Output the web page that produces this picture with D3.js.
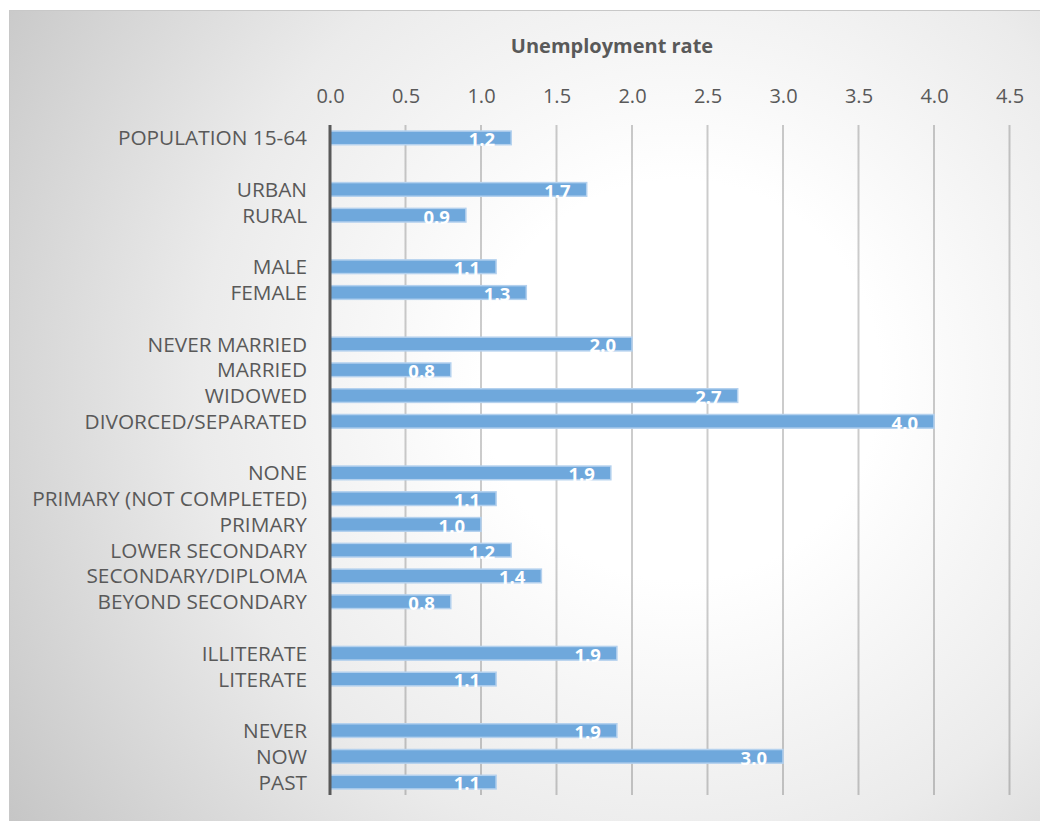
<!DOCTYPE html>
<html>
<head>
<meta charset="utf-8">
<script src="https://cdn.jsdelivr.net/npm/d3@7"></script>
<style>
  html, body { margin: 0; padding: 0; background: #ffffff; }
  svg { display: block; }
</style>
</head>
<body>
<svg id="chart" width="1040" height="821"></svg>
<script>
// Unemployment rate by population group (groups separated by a blank row)
const groups = [
  ["POPULATION 15-64"],
  ["URBAN", "RURAL"],
  ["MALE", "FEMALE"],
  ["NEVER MARRIED", "MARRIED", "WIDOWED", "DIVORCED/SEPARATED"],
  ["NONE", "PRIMARY (NOT COMPLETED)", "PRIMARY", "LOWER SECONDARY", "SECONDARY/DIPLOMA", "BEYOND SECONDARY"],
  ["ILLITERATE", "LITERATE"],
  ["NEVER", "NOW", "PAST"]
];
const groupValues = [
  [1.2],
  [1.7, 0.9],
  [1.1, 1.3],
  [2.0, 0.8, 2.7, 4.0],
  [1.86, 1.1, 1.0, 1.2, 1.4, 0.8],
  [1.9, 1.1],
  [1.9, 3.0, 1.1]
];
const xTicks = [0.0, 0.5, 1.0, 1.5, 2.0, 2.5, 3.0, 3.5, 4.0, 4.5];
const axisTitle = "Unemployment rate";

// Flatten into rows; blank spacer slots keep the gaps between groups
const rows = [];
groups.forEach((g, gi) => {
  if (gi > 0) rows.push({ key: "gap" + gi, label: "", value: null });
  g.forEach((label, i) => rows.push({ key: "g" + gi + "-" + i, label, value: groupValues[gi][i] }));
});
const bars = rows.filter(r => r.value !== null);

const W = 1040, H = 821;
const svg = d3.select("#chart");
const font = "'Open Sans', 'Noto Sans', sans-serif";
const textColor = "#595959";

// Background with a soft radial highlight
const defs = svg.append("defs");
const grad = defs.append("radialGradient")
  .attr("id", "bg")
  .attr("gradientUnits", "userSpaceOnUse")
  .attr("cx", 680).attr("cy", 380).attr("r", 800)
  .attr("fx", 680).attr("fy", 380);
grad.append("stop").attr("offset", 0).attr("stop-color", "#ffffff");
grad.append("stop").attr("offset", 0.25).attr("stop-color", "#ffffff");
grad.append("stop").attr("offset", 0.6).attr("stop-color", "#ebebeb");
grad.append("stop").attr("offset", 1).attr("stop-color", "#c6c6c6");

svg.append("rect").attr("width", W).attr("height", H).attr("fill", "#ffffff");
svg.append("rect")
  .attr("x", 9.5).attr("y", 10.5).attr("width", W).attr("height", H)
  .attr("fill", "url(#bg)")
  .attr("stroke", "#c8c8c8").attr("stroke-width", 1);

// Scales
const x = d3.scaleLinear().domain([0, 4.5]).range([330, 1009.5]);
const y = d3.scaleBand().domain(rows.map(r => r.key)).range([125, 795]).paddingInner(0.47).paddingOuter(0.235);

const plotTop = 125, plotBottom = 795;

// Vertical gridlines
svg.append("g")
  .selectAll("line")
  .data(xTicks.filter(t => t > 0))
  .join("line")
  .attr("x1", d => x(d)).attr("x2", d => x(d))
  .attr("y1", plotTop).attr("y2", plotBottom)
  .attr("stroke", "#000").attr("stroke-opacity", 0.2).attr("stroke-width", 2);

// Top value axis (labels only)
const xAxis = d3.axisTop(x).tickValues(xTicks).tickFormat(d3.format(".1f")).tickSize(0).tickPadding(0);
const gx = svg.append("g").attr("transform", "translate(0,103)").call(xAxis);
gx.select(".domain").remove();
gx.selectAll("text")
  .attr("font-family", font).attr("font-size", 20).attr("fill", textColor);

// Axis title
svg.append("text")
  .attr("x", 612).attr("y", 53)
  .attr("text-anchor", "middle")
  .attr("font-family", font).attr("font-size", 20).attr("font-weight", "bold")
  .attr("fill", textColor)
  .text(axisTitle);

// Bars
svg.append("g")
  .selectAll("rect")
  .data(bars)
  .join("rect")
  .attr("x", x(0)).attr("y", d => y(d.key))
  .attr("width", d => x(d.value) - x(0))
  .attr("height", y.bandwidth())
  .attr("fill", "#6fa8dc")
  .attr("stroke", "#b4d1ee").attr("stroke-width", 1.5);

// Category axis
const yAxis = d3.axisLeft(y).tickFormat(k => rows.find(r => r.key === k).label).tickSize(0).tickPadding(0);
const gy = svg.append("g").attr("transform", "translate(307,0)").call(yAxis);
gy.select(".domain").remove();
gy.selectAll("text")
  .attr("font-family", font).attr("font-size", 20.8).attr("fill", textColor)
  .attr("dy", "0.36em");

// Vertical axis line at zero
svg.append("line")
  .attr("x1", x(0)).attr("x2", x(0))
  .attr("y1", plotTop).attr("y2", plotBottom)
  .attr("stroke", "#595959").attr("stroke-width", 3);

// Value labels near the bar ends
svg.append("g")
  .selectAll("text")
  .data(bars)
  .join("text")
  .attr("x", d => x(d.value) - 16)
  .attr("y", d => y(d.key) + y.bandwidth() / 2)
  .attr("dy", "0.45em")
  .attr("text-anchor", "end")
  .attr("font-family", font).attr("font-size", 18.5).attr("font-weight", "bold")
  .attr("fill", "#ffffff")
  .text(d => d3.format(".1f")(d.value));
</script>
</body>
</html>
